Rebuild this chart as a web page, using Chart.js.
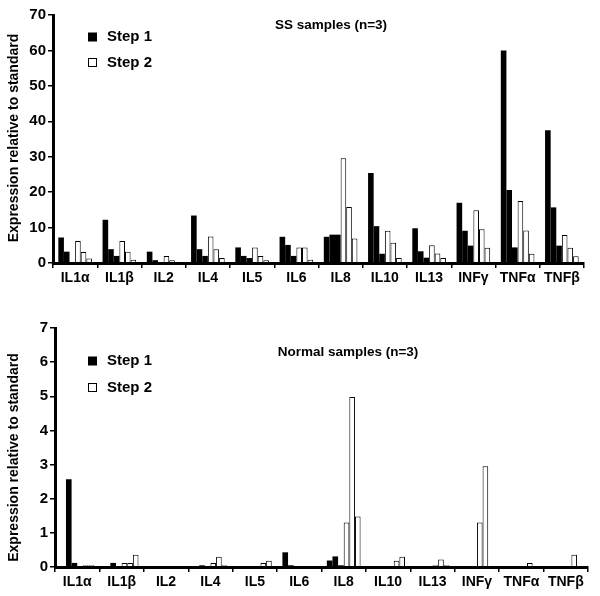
<!DOCTYPE html>
<html>
<head>
<meta charset="utf-8">
<script src="https://cdn.jsdelivr.net/npm/chart.js@4.4.1/dist/chart.umd.min.js"></script>
<style>
  html, body { margin: 0; padding: 0; background: #fff; }
  #wrap { width: 600px; height: 596px; }
  canvas { display: block; }
</style>
</head>
<body>
<div id="wrap">
  <canvas id="ssChart" width="600" height="298"></canvas>
  <canvas id="normalChart" width="600" height="298"></canvas>
</div>
<script>
var cytokines = ['IL1α', 'IL1β', 'IL2', 'IL4', 'IL5', 'IL6', 'IL8', 'IL10', 'IL13', 'INFγ', 'TNFα', 'TNFβ'];
var stepLabels = ['Step 1', 'Step 2'];
var yTitle = 'Expression relative to standard';

// SS samples (n=3), one array per sample
var ssStep1a = [7.2, 12.2, 3.2, 13.4, 4.4, 7.4, 7.4, 25.4, 9.8, 17.0, 60.0, 37.5];
var ssStep1b = [3.2, 3.9, 0.8, 3.9, 2.0, 5.1, 8.0, 10.4, 3.3, 9.1, 20.6, 15.7];
var ssStep1c = [0, 2.0, 0, 2.0, 1.4, 2.0, 8.0, 2.6, 1.5, 4.9, 4.4, 4.9];
var ssStep2a = [6.2, 6.2, 2.0, 7.5, 4.4, 4.4, 29.6, 9.1, 5.0, 14.9, 17.5, 7.9];
var ssStep2b = [3.1, 3.2, 0.8, 3.9, 2.0, 4.4, 15.8, 5.7, 2.7, 9.5, 9.2, 4.3];
var ssStep2c = [1.3, 0.9, 0, 1.4, 0.8, 0.9, 6.9, 1.4, 1.4, 4.3, 2.6, 1.9];

// Normal samples (n=3)
var nStep1a = [0, 0, 0, 0, 0, 0.43, 0.19, 0, 0, 0, 0, 0];
var nStep1b = [2.57, 0.12, 0, 0.05, 0, 0.05, 0.31, 0, 0, 0, 0, 0];
var nStep1c = [0.12, 0, 0, 0, 0, 0, 0.05, 0, 0, 0, 0, 0];
var nStep2a = [0, 0.12, 0, 0.12, 0, 0, 1.3, 0, 0.05, 1.3, 0, 0];
var nStep2b = [0.05, 0.12, 0, 0.3, 0.12, 0, 4.98, 0.18, 0.22, 2.95, 0.12, 0.36];
var nStep2c = [0.05, 0.36, 0, 0.05, 0.18, 0, 1.48, 0.3, 0.05, 0, 0, 0];

var FONT = 'Arial, "Liberation Sans", sans-serif';

// title, legend and axis title sit inside the plot, so draw them here
var panelText = {
    id: 'panelText',
    afterDraw: function (chart, args, opts) {
        var ctx = chart.ctx;
        ctx.save();
        ctx.fillStyle = '#000';
        ctx.textBaseline = 'middle';

        ctx.font = 'bold 13.5px ' + FONT;
        ctx.textAlign = 'center';
        ctx.fillText(opts.title, opts.titleX, opts.titleY);

        ctx.font = 'bold 15px ' + FONT;
        ctx.textAlign = 'left';
        opts.legendY.forEach(function (y, i) {
            if (i === 0) {
                ctx.fillStyle = '#000';
                ctx.fillRect(88, y - 4.5, 9, 9);
            } else {
                ctx.strokeStyle = '#000';
                ctx.lineWidth = 1;
                ctx.strokeRect(88.5, y - 4, 8, 8);
            }
            ctx.fillStyle = '#000';
            ctx.fillText(stepLabels[i], 107, y);
        });

        ctx.translate(opts.yTitleX, opts.yTitleY);
        ctx.rotate(-Math.PI / 2);
        ctx.font = 'bold 14px ' + FONT;
        ctx.textAlign = 'center';
        ctx.fillText(yTitle, 0, 0);
        ctx.restore();
    }
};

function makePanel(id, series, yMax, step, geom, text) {
    var datasets = series.map(function (values, i) {
        var first = i < 3;
        return {
            label: stepLabels[first ? 0 : 1] + ' #' + (i % 3 + 1),
            data: values,
            backgroundColor: first ? '#000' : '#fff',
            borderColor: '#000',
            borderWidth: first ? 0 : 1,
            categoryPercentage: 0.76,
            barPercentage: 1.0
        };
    });

    new Chart(document.getElementById(id), {
        type: 'bar',
        data: { labels: cytokines, datasets: datasets },
        options: {
            responsive: false,
            animation: false,
            events: [],
            layout: { padding: { top: geom.top, right: geom.right, left: 0, bottom: 0 } },
            plugins: {
                legend: { display: false },
                tooltip: { enabled: false },
                panelText: text
            },
            scales: {
                x: {
                    grid: { drawOnChartArea: false, tickLength: 5, color: '#000', lineWidth: 1.5, offset: true, z: 1 },
                    border: { color: '#000', width: 3, z: 1 },
                    ticks: {
                        color: '#000',
                        font: { family: FONT, size: 14, weight: 'bold' },
                        padding: 2,
                        autoSkip: false,
                        maxRotation: 0
                    },
                    afterFit: function (scale) { scale.height = geom.xHeight; }
                },
                y: {
                    min: 0,
                    max: yMax,
                    grid: { drawOnChartArea: false, tickLength: 5, color: '#000', lineWidth: 1.5, z: 1 },
                    border: { color: '#000', width: 3, z: 1 },
                    ticks: {
                        stepSize: step,
                        color: '#000',
                        font: { family: FONT, size: 15, weight: 'bold' },
                        padding: 2
                    },
                    afterFit: function (scale) { scale.width = geom.yWidth; }
                }
            }
        },
        plugins: [panelText]
    });
}

makePanel('ssChart',
    [ssStep1a, ssStep1b, ssStep1c, ssStep2a, ssStep2b, ssStep2c],
    70, 10,
    { top: 15, right: 16, xHeight: 35, yWidth: 53 },
    { title: 'SS samples (n=3)', titleX: 331, titleY: 25, legendY: [37, 62.5], yTitleX: 14, yTitleY: 138 });

makePanel('normalChart',
    [nStep1a, nStep1b, nStep1c, nStep2a, nStep2b, nStep2c],
    7, 1,
    { top: 30, right: 12, xHeight: 29, yWidth: 55 },
    { title: 'Normal samples (n=3)', titleX: 348, titleY: 54, legendY: [63, 89.5], yTitleX: 14, yTitleY: 159.5 });
</script>
</body>
</html>
